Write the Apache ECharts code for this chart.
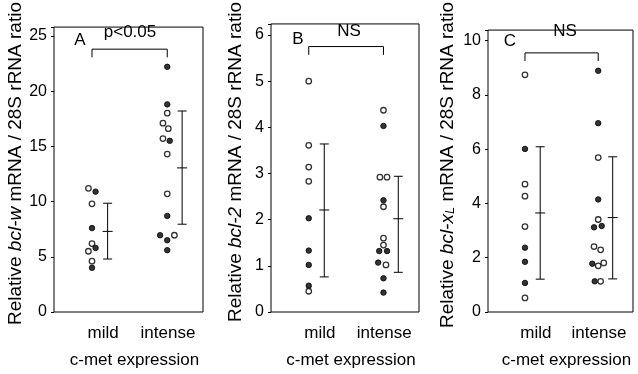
<!DOCTYPE html>
<html><head><meta charset="utf-8">
<script src="https://cdn.jsdelivr.net/npm/echarts@6/dist/echarts.min.js"></script>
<style>html,body{margin:0;padding:0;background:#fff}#c{width:638px;height:374px}</style>
</head><body><div id="c"></div>
<script>
// ---- data ----
const groups = ['mild', 'intense'];
const xTitle = 'c-met expression';

// Panel A: bcl-w
const aMildVal  = [11.2, 10.9, 9.8, 7.6, 6.2, 5.5, 5.8, 4.6, 4.0];
const aMildFill = [0, 1, 0, 1, 0, 0, 1, 0, 1];
const aMildLane = [-1, 1, 0, 0, 0, -1, 1, 0, 0];
const aIntVal   = [22.2, 18.8, 18.0, 17.1, 16.6, 15.7, 15.5, 14.3, 10.7, 8.7, 6.95, 6.95, 6.5, 5.6];
const aIntFill  = [1, 1, 0, 0, 0, 0, 1, 0, 0, 1, 1, 0, 1, 1];
const aIntLane  = [0, 0, 0, -1.2, 0.3, -1.2, 0.7, 0, 0, 0, -2, 2, 0, 0];
const aMean = [7.3, 13.05], aLow = [4.8, 7.95], aHigh = [9.85, 18.2];
const aTicks = [0, 5, 10, 15, 20, 25];

// Panel B: bcl-2
const bMildVal  = [5.0, 3.61, 3.14, 2.83, 2.03, 1.33, 1.02, 0.57, 0.45];
const bMildFill = [0, 0, 0, 0, 1, 1, 1, 1, 0];
const bMildLane = [0, 0, 0, 0, 0, 0, 0, 0, 0];
const bIntVal   = [4.37, 4.03, 2.92, 2.92, 2.42, 2.28, 1.60, 1.45, 1.32, 1.32, 1.07, 1.02, 0.73, 0.42];
const bIntFill  = [0, 1, 0, 0, 1, 0, 0, 0, 1, 1, 1, 0, 1, 1];
const bIntLane  = [0, 0, -1, 1, 0, 0, 0, 0, -1.2, 1, -1.5, 0.7, 0, 0];
const bMean = [2.21, 2.02], bLow = [0.76, 0.86], bHigh = [3.64, 2.94];
const bTicks = [0, 1, 2, 3, 4, 5, 6];

// Panel C: bcl-xL
const cMildVal  = [8.74, 6.01, 4.71, 4.27, 3.15, 2.37, 1.85, 1.07, 0.52];
const cMildFill = [0, 1, 0, 0, 0, 1, 1, 1, 0];
const cMildLane = [0, 0, 0, 0, 0, 0, 0, 0, 0];
const cIntVal   = [8.89, 6.96, 5.69, 4.15, 3.41, 3.12, 3.17, 2.41, 2.29, 1.78, 1.70, 1.81, 1.13, 1.13];
const cIntFill  = [1, 1, 0, 1, 0, 1, 1, 0, 0, 1, 0, 0, 1, 0];
const cIntLane  = [0, 0, 0, 0, 0, -1.2, 1, -1.2, 0.7, -1.7, 0, 1.6, -1, 0.7];
const cMean = [3.65, 3.48], cLow = [1.21, 1.22], cHigh = [6.09, 5.72];
const cTicks = [0, 2, 4, 6, 8, 10];

const panelLetters = ['A', 'B', 'C'];
const panelTests = ['p<0.05', 'NS', 'NS'];

// ---- layout ----
const FONT = 'Liberation Sans, Arial, sans-serif';
const DOT_X = [25.5, 76];   // x positions (0-100 plot-width units) of dot columns
const ERR_X = [36, 86];
const LBL_X = [33, 76.5];
const LANE = 2.4;
const grids = [
  {left: 54, top: 20, width: 149, height: 292},
  {left: 271, top: 20, width: 148, height: 292},
  {left: 488, top: 20, width: 145, height: 292}
];
const yMax = [25.8, 6.24, 10.39];
const yInt = [5, 1, 2];
const yNames = [
  'Relative {i|bcl-w} mRNA / 28S rRNA ratio',
  'Relative {i|bcl-2} mRNA / 28S rRNA ratio',
  'Relative {i|bcl-x}{s|L} mRNA / 28S rRNA ratio'
];
const nameGaps = [28, 26, 31];
const bracket = [[23.06, 23.8], [5.57, 5.75], [9.25, 9.55]];

const panels = [
  {mv: aMildVal, mf: aMildFill, ml: aMildLane, iv: aIntVal, fi: aIntFill, il: aIntLane, mean: aMean, low: aLow, high: aHigh, ticks: aTicks},
  {mv: bMildVal, mf: bMildFill, ml: bMildLane, iv: bIntVal, fi: bIntFill, il: bIntLane, mean: bMean, low: bLow, high: bHigh, ticks: bTicks},
  {mv: cMildVal, mf: cMildFill, ml: cMildLane, iv: cIntVal, fi: cIntFill, il: cIntLane, mean: cMean, low: cLow, high: cHigh, ticks: cTicks}
];

const chart = echarts.init(document.getElementById('c'), null, {renderer: 'canvas'});
const option = {
  animation: false,
  grid: grids.map(g => Object.assign({show: true, borderColor: '#000', borderWidth: 1, backgroundColor: 'transparent'}, g)),
  xAxis: [], yAxis: [], series: [], graphic: []
};

function pts(vals, fills, lanes, gi) {
  return vals.map((v, i) => ({
    value: [DOT_X[gi] + lanes[i] * LANE, v],
    itemStyle: fills[i] ? {color: '#000', borderColor: '#000', borderWidth: 1}
                        : {color: '#fff', borderColor: '#000', borderWidth: 1.3}
  }));
}

panels.forEach((p, k) => {
  option.xAxis.push({
    gridIndex: k, type: 'value', min: 0, max: 100,
    axisLine: {show: false}, splitLine: {show: false}, axisTick: {show: false},
    axisLabel: {customValues: LBL_X, formatter: v => (v === LBL_X[0] ? groups[0] : groups[1]),
                color: '#000', fontSize: 17, fontFamily: FONT, margin: 13},
    name: xTitle, nameLocation: 'middle', nameGap: 40,
    nameTextStyle: {color: '#000', fontSize: 17, fontFamily: FONT, padding: [0, 0, 0, 12]}
  });
  option.yAxis.push({
    gridIndex: k, type: 'value', min: 0, max: yMax[k], interval: yInt[k],
    axisLine: {show: false}, splitLine: {show: false},
    axisTick: {show: true, length: 3, lineStyle: {color: '#000'}},
    axisLabel: {color: '#000', fontSize: 16, fontFamily: FONT, margin: 7,
                formatter: v => (p.ticks.indexOf(v) >= 0 ? String(v) : '')},
    name: yNames[k], nameLocation: 'middle', nameRotate: 90, nameGap: nameGaps[k],
    nameTextStyle: {color: '#000', fontSize: 19, fontFamily: FONT, padding: [0, 0, 0, 12],
      rich: {
        i: {fontStyle: 'italic', fontSize: 19, fontFamily: FONT, color: '#000'},
        s: {fontStyle: 'italic', fontSize: 13, fontFamily: FONT, color: '#000', verticalAlign: 'bottom', padding: [6, 0, 0, 0]}
      }}
  });
  const dotStyle = {symbol: 'circle', symbolSize: 5.5};
  option.series.push(Object.assign({type: 'scatter', xAxisIndex: k, yAxisIndex: k, z: 5,
    data: pts(p.mv, p.mf, p.ml, 0)}, dotStyle));
  option.series.push(Object.assign({type: 'scatter', xAxisIndex: k, yAxisIndex: k, z: 5,
    data: pts(p.iv, p.fi, p.il, 1)}, dotStyle));
  // error bars: mean +/- SD
  option.series.push({
    type: 'custom', xAxisIndex: k, yAxisIndex: k, z: 4,
    data: [0, 1].map(j => [ERR_X[j], p.mean[j], p.low[j], p.high[j]]),
    renderItem: (params, api) => {
      const x = api.value(0);
      const m = api.coord([x, api.value(1)]);
      const lo = api.coord([x, api.value(2)]);
      const hi = api.coord([x, api.value(3)]);
      const st = {stroke: '#000', lineWidth: 1};
      const c = 4.5, cm = 5;
      return {type: 'group', children: [
        {type: 'line', shape: {x1: lo[0], y1: lo[1], x2: hi[0], y2: hi[1]}, style: st},
        {type: 'line', shape: {x1: lo[0] - c, y1: lo[1], x2: lo[0] + c, y2: lo[1]}, style: st},
        {type: 'line', shape: {x1: hi[0] - c, y1: hi[1], x2: hi[0] + c, y2: hi[1]}, style: st},
        {type: 'line', shape: {x1: m[0] - cm, y1: m[1], x2: m[0] + cm, y2: m[1]}, style: st}
      ]};
    }
  });
  // significance bracket
  const b = bracket[k];
  option.series.push({
    type: 'line', xAxisIndex: k, yAxisIndex: k, symbol: 'none', z: 4,
    lineStyle: {color: '#000', width: 1},
    data: [[DOT_X[0], b[0]], [DOT_X[0], b[1]], [DOT_X[1], b[1]], [DOT_X[1], b[0]]]
  });
});

// panel letters & test labels
const letterPos = [[80, 40], [298, 39], [510, 41]];
const testPos = [[130, 32], [349, 31], [565, 31]];
[0, 1, 2].forEach(k => {
  option.graphic.push({type: 'text', x: letterPos[k][0], y: letterPos[k][1], z: 10,
    style: {text: panelLetters[k], fill: '#000', font: '17px ' + FONT, align: 'center', verticalAlign: 'middle'}});
  option.graphic.push({type: 'text', x: testPos[k][0], y: testPos[k][1], z: 10,
    style: {text: panelTests[k], fill: '#000', font: '17px ' + FONT, align: 'center', verticalAlign: 'middle'}});
});

chart.setOption(option);
</script>
</body></html>
